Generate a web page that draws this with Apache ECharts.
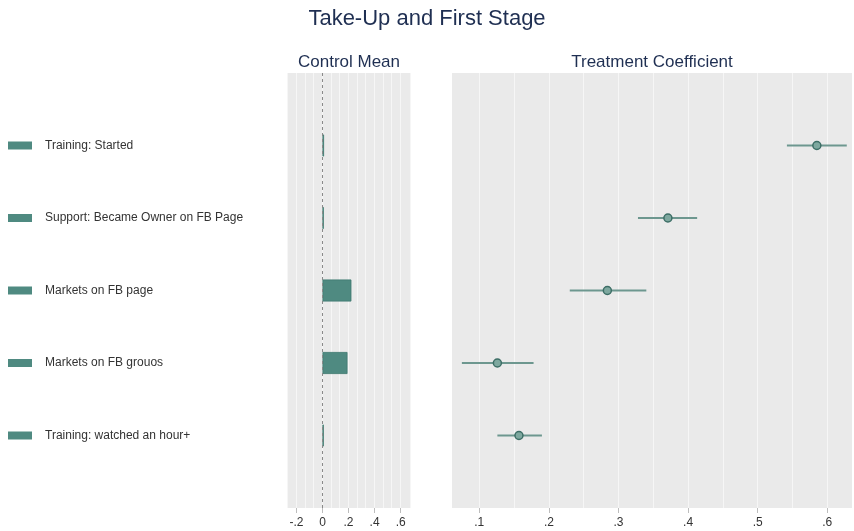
<!DOCTYPE html>
<html>
<head>
<meta charset="utf-8">
<script src="https://cdn.jsdelivr.net/npm/echarts@6/dist/echarts.min.js"></script>
<style>html,body{margin:0;padding:0;background:#fff}#c{width:854px;height:531px}</style>
</head>
<body>
<div id="c"></div>
<script>
// ---- data ----
var categories = ['Training: Started', 'Support: Became Owner on FB Page', 'Markets on FB page', 'Markets on FB grouos', 'Training: watched an hour+'];
var controlMean = [0.012, 0.01, 0.222, 0.192, 0.01];
var coef = [0.585, 0.371, 0.284, 0.126, 0.157];
var ciLow = [0.542, 0.328, 0.230, 0.075, 0.126];
var ciHigh = [0.628, 0.413, 0.340, 0.178, 0.190];
var leftTicks = [-0.2, 0, 0.2, 0.4, 0.6];
var rightTicks = [0.1, 0.2, 0.3, 0.4, 0.5, 0.6];
var leftGridLines = [-0.2667, -0.2, -0.1333, -0.0667, 0, 0.0667, 0.1333, 0.2, 0.2667, 0.3333, 0.4, 0.4667, 0.5333, 0.6, 0.6667];
var rightGridLines = [0.1, 0.15, 0.2, 0.25, 0.3, 0.35, 0.4, 0.45, 0.5, 0.55, 0.6];

// pad categories so rows sit at 1..5 of a 0..6 span
var yCats = [''].concat(categories).concat(['']);
function pad(arr) { return [null].concat(arr).concat([null]); }

var FONT = '"Liberation Sans", Arial, Helvetica, sans-serif';
var teal = '#4f8a81';
var panelBg = '#eaeaea';
var gridWhite = '#f6f6f6';

function fmt(v) {
  var s = String(Math.round(v * 100) / 100);
  return s.replace('0.', '.');
}

var chart = echarts.init(document.getElementById('c'), null, {renderer: 'canvas'});

var option = {
  animation: false,
  backgroundColor: '#ffffff',
  textStyle: {fontFamily: FONT},
  graphic: [
    {type: 'text', x: 427, y: 19, style: {text: 'Take-Up and First Stage', fill: '#1f2f52', font: '22px ' + FONT, textAlign: 'center', textVerticalAlign: 'middle'}},
    {type: 'text', x: 349, y: 62, style: {text: 'Control Mean', fill: '#1f2f52', font: '17px ' + FONT, textAlign: 'center', textVerticalAlign: 'middle'}},
    {type: 'text', x: 652, y: 62, style: {text: 'Treatment Coefficient', fill: '#1f2f52', font: '17px ' + FONT, textAlign: 'center', textVerticalAlign: 'middle'}}
  ],
  grid: [
    {left: 287, right: 443, top: 73, bottom: 23, show: true, backgroundColor: panelBg, borderWidth: 0, containLabel: false},
    {left: 452, right: 2, top: 73, bottom: 23, show: true, backgroundColor: panelBg, borderWidth: 0, containLabel: false}
  ],
  xAxis: [
    {
      type: 'value', gridIndex: 0, min: -0.272, max: 0.679,
      axisLine: {show: false},
      splitLine: {show: false},
      axisTick: {show: true, length: 5, customValues: leftTicks, lineStyle: {color: '#bdbdbd'}},
      axisLabel: {show: true, customValues: leftTicks, formatter: fmt, color: '#333', fontSize: 12, margin: 9, fontFamily: FONT}
    },
    {
      type: 'value', gridIndex: 1, min: 0.0608, max: 0.6355,
      axisLine: {show: false},
      splitLine: {show: false},
      axisTick: {show: true, length: 5, customValues: rightTicks, lineStyle: {color: '#bdbdbd'}},
      axisLabel: {show: true, customValues: rightTicks, formatter: fmt, color: '#333', fontSize: 12, margin: 9, fontFamily: FONT}
    }
  ],
  yAxis: [
    {
      type: 'category', gridIndex: 0, data: yCats, inverse: true, boundaryGap: false,
      axisLine: {show: false}, axisTick: {show: false}, splitLine: {show: false},
      axisLabel: {
        show: true, align: 'left', margin: 279, interval: 0,
        formatter: function (v) { return v ? '{b|}{t|' + v + '}' : ''; },
        rich: {
          b: {width: 24, height: 8, backgroundColor: teal},
          t: {padding: [0, 0, 0, 13], fontSize: 12, color: '#333', fontFamily: FONT}
        }
      }
    },
    {
      type: 'category', gridIndex: 1, data: yCats, inverse: true, boundaryGap: false,
      axisLine: {show: false}, axisTick: {show: false}, splitLine: {show: false}, axisLabel: {show: false}
    }
  ],
  series: [
    {
      type: 'scatter', xAxisIndex: 0, yAxisIndex: 0, data: [], z: 1, silent: true,
      markLine: {
        silent: true, symbol: 'none', label: {show: false}, animation: false, z: 1,
        lineStyle: {color: gridWhite, type: 'solid', width: 1},
        data: leftGridLines.map(function (v) { return {xAxis: v}; })
      }
    },
    {
      type: 'scatter', xAxisIndex: 1, yAxisIndex: 1, data: [], z: 1, silent: true,
      markLine: {
        silent: true, symbol: 'none', label: {show: false}, animation: false, z: 1,
        lineStyle: {color: gridWhite, type: 'solid', width: 1},
        data: rightGridLines.map(function (v) { return {xAxis: v}; })
      }
    },
    {
      type: 'bar', xAxisIndex: 0, yAxisIndex: 0, z: 3,
      data: pad(controlMean), barWidth: 22,
      itemStyle: {color: teal, borderColor: '#3f7a70', borderWidth: 0.8}
    },
    {
      type: 'scatter', xAxisIndex: 0, yAxisIndex: 0, data: [], z: 6, silent: true,
      markLine: {
        silent: true, symbol: 'none', label: {show: false}, animation: false, z: 6,
        lineStyle: {color: '#8a8a8a', type: [3, 3], width: 1},
        data: [{xAxis: 0}]
      }
    },
    {
      type: 'custom', xAxisIndex: 1, yAxisIndex: 1, z: 3,
      data: categories.map(function (c, i) { return [i + 1, ciLow[i], ciHigh[i]]; }),
      encode: {x: [1, 2], y: 0},
      renderItem: function (params, api) {
        var y = api.value(0);
        var p1 = api.coord([api.value(1), y]);
        var p2 = api.coord([api.value(2), y]);
        return {
          type: 'line',
          shape: {x1: p1[0], y1: p1[1], x2: p2[0], y2: p2[1]},
          style: {stroke: '#6d978f', lineWidth: 2}
        };
      }
    },
    {
      type: 'scatter', xAxisIndex: 1, yAxisIndex: 1, z: 4,
      data: categories.map(function (c, i) { return [coef[i], i + 1]; }),
      symbol: 'circle', symbolSize: 8,
      itemStyle: {color: '#7ea89f', borderColor: '#3d6e66', borderWidth: 1.5, opacity: 1}
    }
  ]
};
chart.setOption(option);
</script>
</body>
</html>
